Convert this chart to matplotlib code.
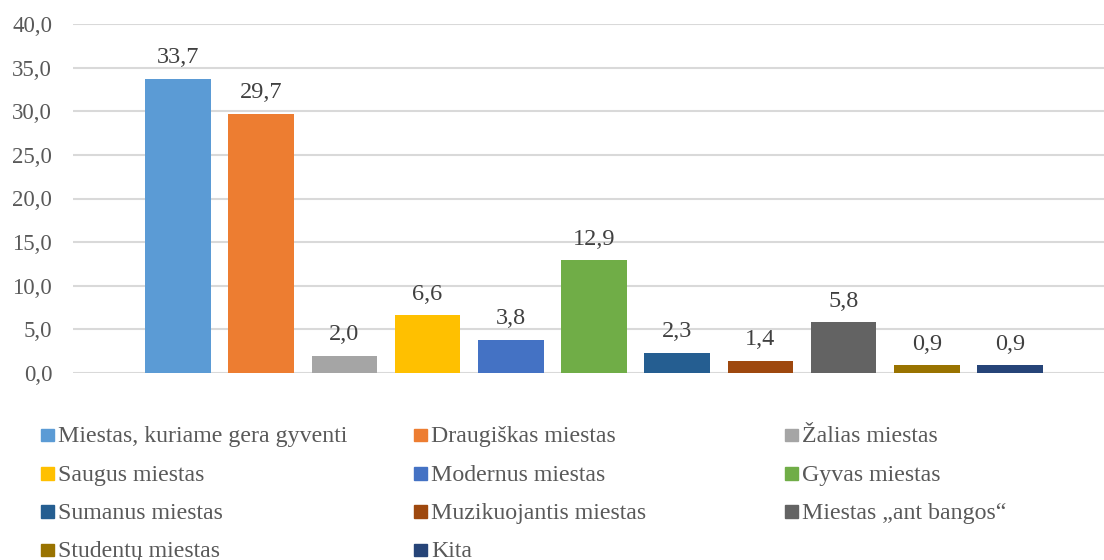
import numpy as np
import matplotlib.pyplot as plt
from matplotlib.patches import Rectangle

plt.rcParams['font.family'] = ['Liberation Serif', 'DejaVu Serif']

labels = ['Miestas, kuriame gera gyventi', 'Draugiškas miestas', 'Žalias miestas',
          'Saugus miestas', 'Modernus miestas', 'Gyvas miestas',
          'Sumanus miestas', 'Muzikuojantis miestas', 'Miestas „ant bangos“',
          'Studentų miestas', 'Kita']
values = [33.7, 29.7, 2.0, 6.6, 3.8, 12.9, 2.3, 1.4, 5.8, 0.9, 0.9]
colors = ['#5B9BD5', '#ED7D31', '#A5A5A5', '#FFC000', '#4472C4', '#70AD47',
          '#255E91', '#9E480E', '#636363', '#997300', '#264478']

W, H = 1104, 560
fig = plt.figure(figsize=(W / 100, H / 100), dpi=100)
ax = fig.add_axes([73 / W, (H - 373) / H, (W - 73) / W, (373 - 24) / H])

x = np.arange(len(values))
bars = ax.bar(x, values, width=0.79, color=colors, zorder=3)
for b, v in zip(bars, values):
    ax.annotate(f'{v:.1f}'.replace('.', ','), (b.get_x() + b.get_width() / 2, v),
                xytext=(0, 15.5), textcoords='offset pixels', ha='center', va='baseline',
                fontsize=17.5, color='#404040')

ax.set_xlim(-1.262, 11.13)
ax.set_ylim(0, 40)
ax.set_yticks(np.arange(0, 41, 5))
ax.set_yticklabels([f'{t:.1f}'.replace('.', ',') for t in np.arange(0, 41, 5)])
ax.set_xticks([])
ax.tick_params(axis='y', length=0, pad=15, labelsize=16.5, labelcolor='#595959')
ax.grid(axis='y', color='#D9D9D9', linewidth=1.5, zorder=0)
for s in ax.spines.values():
    s.set_visible(False)

# legend laid out in three columns, row by row
col_x = [41, 414, 785]
row0, row_step = 435, 38.3
sq = 12.5
for i, (lab, c) in enumerate(zip(labels, colors)):
    cx = col_x[i % 3]
    cy = row0 + (i // 3) * row_step
    fig.patches.append(Rectangle((cx / W, (H - cy - sq / 2) / H), sq / W, sq / H,
                                 transform=fig.transFigure, color=c))
    fig.text((cx + sq + 4.5) / W, (H - cy - 7.3) / H, lab, fontsize=17.2,
             color='#595959', va='baseline', ha='left')

fig.savefig('out.png', dpi=100)
